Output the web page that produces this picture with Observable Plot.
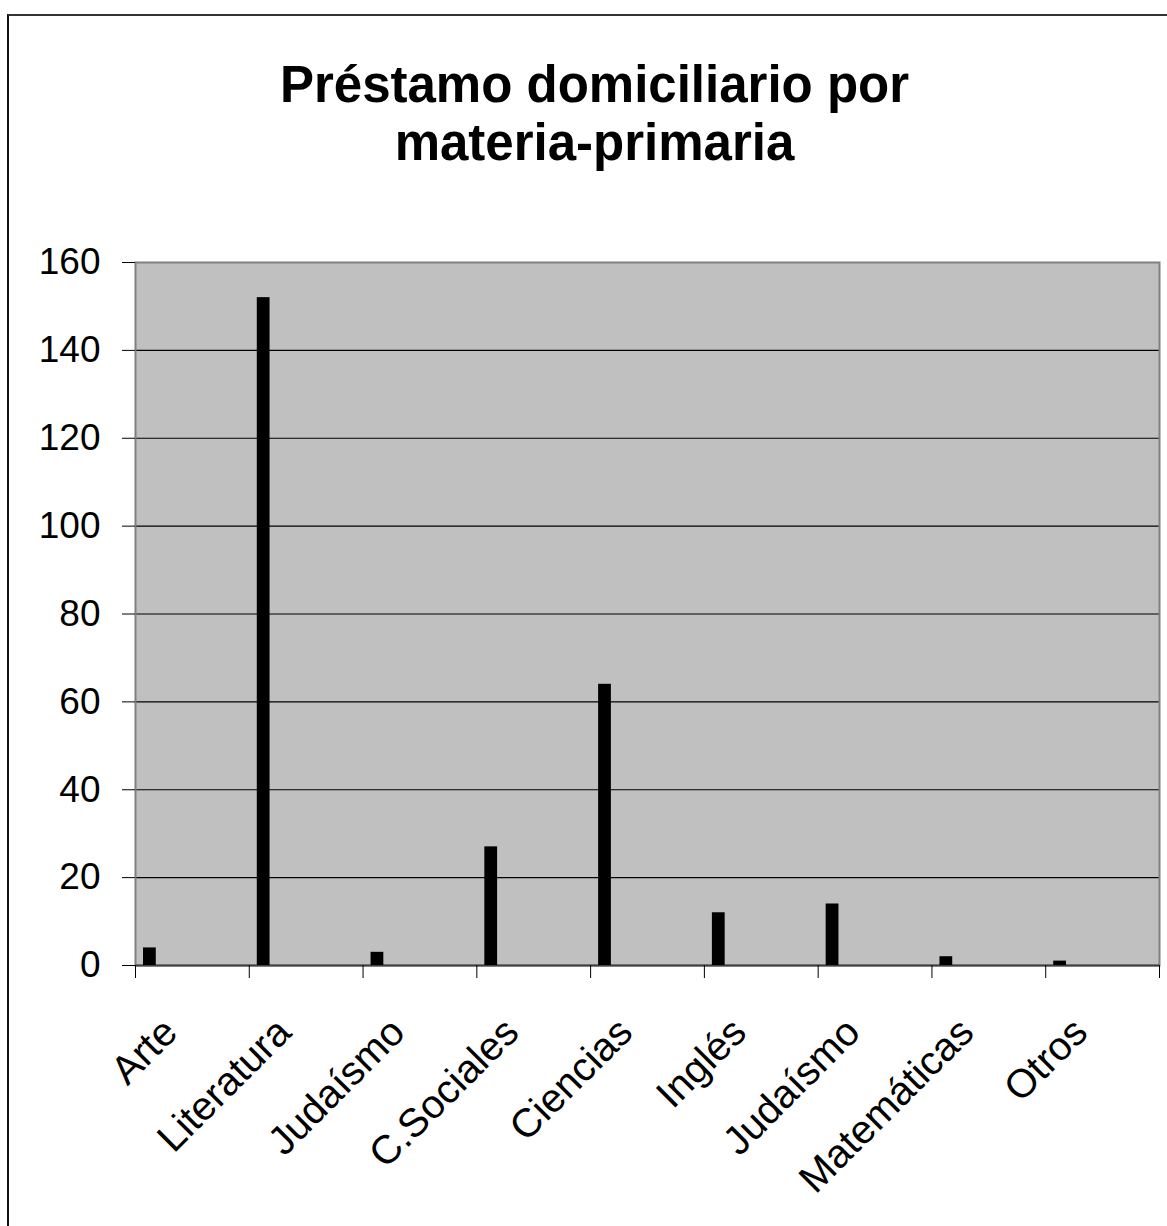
<!DOCTYPE html>
<html>
<head>
<meta charset="utf-8">
<script src="https://cdn.jsdelivr.net/npm/d3@7"></script>
<script src="https://cdn.jsdelivr.net/npm/@observablehq/plot@0.6"></script>
<style>
  html, body { margin: 0; padding: 0; background: #fff; overflow: hidden; }
  #wrap { position: relative; width: 1167px; height: 1226px; overflow: hidden; font-family: "Liberation Sans", Arial, sans-serif; }
  #border { position: absolute; left: 7px; top: 14px; width: 2000px; height: 2000px; border-top: 2px solid #333; border-left: 2px solid #111; box-sizing: border-box; pointer-events: none; }
  #title { position: relative; height: 230px; box-sizing: border-box; padding-top: 56px; padding-left: 22px; text-align: center; font-weight: bold; font-size: 51px; line-height: 58px; color: #000; }
  #chart svg { display: block; }
</style>
</head>
<body>
<div id="wrap">
  <div id="border"></div>
  <div id="title">Préstamo domiciliario por<br>materia-primaria</div>
  <div id="chart"></div>
</div>
<script>
const categories = ["Arte", "Literatura", "Judaísmo", "C.Sociales", "Ciencias", "Inglés", "Judaísmo", "Matemáticas", "Otros"];
const values = [4, 152, 3, 27, 64, 12, 14, 2, 1];
const yTicks = [0, 20, 40, 60, 80, 100, 120, 140, 160];
const gridValues = [20, 40, 60, 80, 100, 120, 140];

const data = categories.map((c, i) => ({i, c, v: values[i]}));
const idx = d3.range(categories.length);

const W = 1167, H = 996;
const mL = 135, mR = 8, mT = 32, mB = 261;
const bw = (W - mL - mR) / categories.length;

const chart = Plot.plot({
  width: W,
  height: H,
  marginLeft: mL,
  marginRight: mR,
  marginTop: mT,
  marginBottom: mB,
  style: {fontFamily: "'Liberation Sans', Arial, sans-serif", fontSize: "37px", color: "#000", background: "transparent"},
  x: {type: "band", domain: idx, padding: 0, round: false},
  y: {domain: [0, 160]},
  marks: [
    Plot.frame({fill: "#c0c0c0", stroke: null}),
    Plot.ruleY(gridValues, {stroke: "#000", strokeWidth: 1.2}),
    Plot.frame({stroke: "#808080", strokeWidth: 2}),
    Plot.ruleY([0], {stroke: "#404040", strokeWidth: 2}),
    Plot.barY(data, {x: "i", y: "v", fill: "#000", insetLeft: 8, insetRight: 93}),
    Plot.axisY({ticks: yTicks, tickSize: 13, tickPadding: 22, fontSize: 37, stroke: "#000", label: null}),
    Plot.axisX(idx, {tickFormat: () => "", tickSize: 13, dx: -bw / 2, stroke: "#000", label: null}),
    Plot.axisX([idx[idx.length - 1]], {tickFormat: () => "", tickSize: 13, dx: bw / 2, stroke: "#000", label: null}),
    Plot.axisX(idx, {tickFormat: i => categories[i], tickSize: 0, tickPadding: 60, tickRotate: -45, dx: -22, fontSize: 40, label: null})
  ]
});
document.getElementById("chart").appendChild(chart);
</script>
</body>
</html>
